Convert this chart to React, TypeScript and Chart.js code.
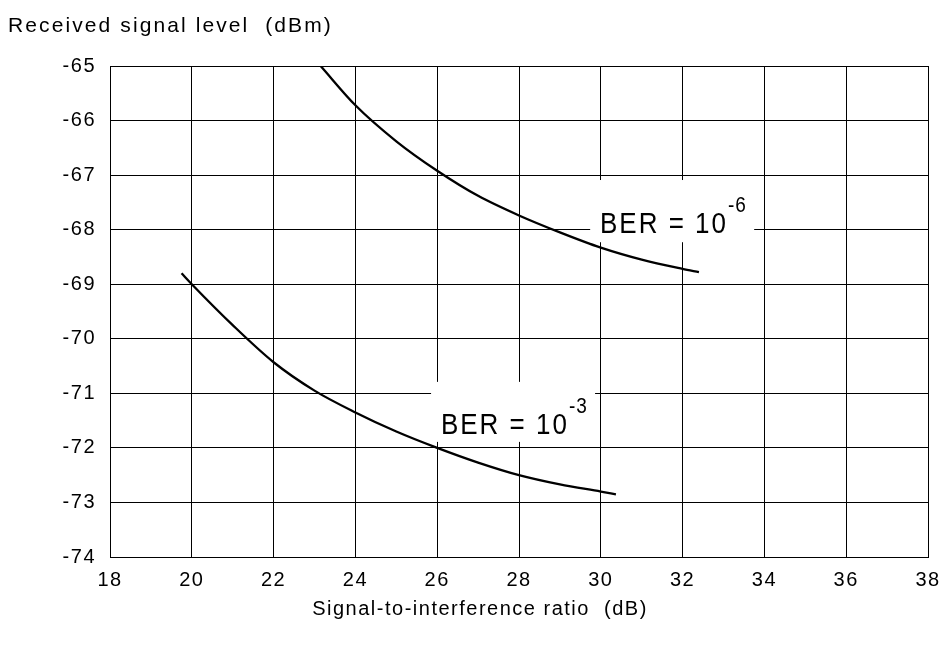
import React, { useEffect, useRef } from 'react';
import { Chart, registerables } from 'chart.js';

Chart.register(...registerables);

const xMin = 18;
const xMax = 38;
const xStep = 2;
const yMin = -74;
const yMax = -65;
const yStep = 1;

const yTitle = 'Received signal level  (dBm)';
const xTitle = 'Signal-to-interference ratio  (dB)';

const ber6X = [23.15, 24, 25, 26, 27, 28, 29, 30, 31, 32, 32.4];
const ber6Y = [-65.0, -65.72, -66.38, -66.92, -67.38, -67.74, -68.05, -68.33, -68.55, -68.72, -68.78];

const ber3X = [19.75, 20, 21, 22, 23, 24, 25, 26, 27, 28, 29, 30, 30.37];
const ber3Y = [-68.8, -69.0, -69.75, -70.43, -70.95, -71.35, -71.7, -72.0, -72.27, -72.5, -72.67, -72.8, -72.85];

// label boxes in data units: [x0, x1, yTop, yBottom], text anchor [x, baselineY]
const labelTexts = ['BER = 10', 'BER = 10'];
const labelSups = ['-6', '-3'];
const labelBoxes = [
  [29.74, 33.75, -67.09, -68.23],
  [25.85, 29.86, -70.79, -71.89],
];
const labelAnchors = [
  [29.98, -68.06],
  [26.09, -71.74],
];

const FONT = '"Liberation Sans", Arial, sans-serif';

const toPts = (xs: number[], ys: number[]) => xs.map((x, i) => ({ x, y: ys[i] }));

const spacingPlugin = {
  id: 'spacing',
  beforeLayout(chart: any) {
    chart.ctx.letterSpacing = '1.5px';
  },
  beforeDraw(chart: any) {
    const ctx = chart.ctx;
    ctx.save();
    ctx.fillStyle = '#ffffff';
    ctx.fillRect(0, 0, chart.width, chart.height);
    ctx.restore();
    ctx.letterSpacing = '1.5px';
  },
  afterDraw(chart: any) {
    const ctx = chart.ctx as CanvasRenderingContext2D;
    const xs = chart.scales.x;
    const ys = chart.scales.y;
    ctx.save();
    for (let i = 0; i < labelBoxes.length; i++) {
      const b = labelBoxes[i];
      const x0 = xs.getPixelForValue(b[0]);
      const x1 = xs.getPixelForValue(b[1]);
      const y0 = ys.getPixelForValue(b[2]);
      const y1 = ys.getPixelForValue(b[3]);
      ctx.fillStyle = '#ffffff';
      ctx.fillRect(x0, y0, x1 - x0, y1 - y0);
      const ax = xs.getPixelForValue(labelAnchors[i][0]);
      const ay = ys.getPixelForValue(labelAnchors[i][1]);
      ctx.save();
      ctx.translate(ax, ay);
      ctx.scale(1, 1.12);
      ctx.fillStyle = '#000000';
      (ctx as any).letterSpacing = '2px';
      ctx.font = `26px ${FONT}`;
      ctx.textAlign = 'left';
      ctx.textBaseline = 'alphabetic';
      ctx.fillText(labelTexts[i], 0, 0);
      const w = ctx.measureText(labelTexts[i]).width;
      ctx.font = `19px ${FONT}`;
      (ctx as any).letterSpacing = '1px';
      ctx.fillText(labelSups[i], w, -18.5);
      ctx.restore();
    }
    ctx.fillStyle = '#000000';
    ctx.textBaseline = 'middle';
    (ctx as any).letterSpacing = '2.1px';
    ctx.font = `21px ${FONT}`;
    ctx.textAlign = 'left';
    ctx.fillText(yTitle, 8, 26);
    (ctx as any).letterSpacing = '1.5px';
    ctx.font = `20px ${FONT}`;
    ctx.textAlign = 'center';
    ctx.fillText(xTitle, 480, 609);
    ctx.restore();
  },
};

export default function App() {
  const ref = useRef<HTMLCanvasElement | null>(null);
  useEffect(() => {
    document.body.style.margin = '0';
    const canvas = ref.current;
    if (!canvas) return;
    const chart = new Chart(canvas, {
      type: 'line',
      data: {
        datasets: [
          {
            label: 'BER = 10^-6',
            data: toPts(ber6X, ber6Y),
            borderColor: '#000000',
            borderWidth: 2.3,
            pointRadius: 0,
            cubicInterpolationMode: 'monotone',
            fill: false,
          },
          {
            label: 'BER = 10^-3',
            data: toPts(ber3X, ber3Y),
            borderColor: '#000000',
            borderWidth: 2.3,
            pointRadius: 0,
            cubicInterpolationMode: 'monotone',
            fill: false,
          },
        ],
      },
      options: {
        animation: false,
        responsive: false,
        devicePixelRatio: 1,
        layout: { padding: { left: 0, top: 66, right: 18, bottom: 0 } },
        plugins: {
          legend: { display: false },
          tooltip: { enabled: false },
          title: { display: false },
        },
        scales: {
          x: {
            type: 'linear',
            min: xMin,
            max: xMax,
            afterFit: (s: any) => {
              s.height = 89;
              s.paddingRight = 0;
              s.paddingLeft = 0;
            },
            ticks: {
              stepSize: xStep,
              color: '#000000',
              font: { family: FONT, size: 20 },
              padding: 11,
              maxRotation: 0,
            },
            grid: { color: '#000000', lineWidth: 1, drawTicks: false },
            border: { color: '#000000', width: 1 },
          },
          y: {
            type: 'linear',
            min: yMin,
            max: yMax,
            afterFit: (s: any) => {
              s.width = 110;
              s.paddingTop = 0;
              s.paddingBottom = 0;
            },
            ticks: {
              stepSize: yStep,
              color: '#000000',
              font: { family: FONT, size: 20 },
              padding: 14,
            },
            grid: { color: '#000000', lineWidth: 1, drawTicks: false },
            border: { color: '#000000', width: 1 },
          },
        },
      },
      plugins: [spacingPlugin],
    });
    return () => chart.destroy();
  }, []);
  return (
    <div style={{ width: 946, height: 646 }}>
      <canvas ref={ref} width={946} height={646} style={{ display: 'block' }} />
    </div>
  );
}
